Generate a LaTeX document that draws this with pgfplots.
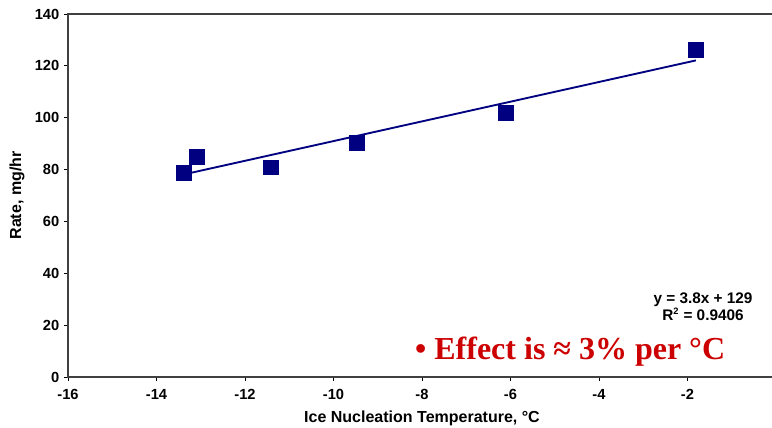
\documentclass[border=0pt]{standalone}
\usepackage{pgfplots}
\pgfplotsset{compat=1.18}
\usepackage{fontspec}
\setmainfont{Liberation Sans}
\newfontfamily\timesfont{Liberation Serif}
\usetikzlibrary{calc}
\definecolor{navy}{RGB}{0,0,128}
\definecolor{effectred}{RGB}{204,0,0}

\begin{document}
\begin{tikzpicture}
\begin{axis}[
  scale only axis,
  width=531pt, height=272.25pt,
  xmin=-16, xmax=0, ymin=0, ymax=140,
  xtick={-16,-14,...,0},
  ytick={0,20,...,140},
  tick align=outside, tick pos=left,
  axis line style={black!75, line width=0.8pt},
  major tick length=3pt,
  tick style={black, line width=0.6pt},
  ticklabel style={font=\fontsize{11}{12}\selectfont\bfseries},
  xticklabel style={yshift=-3pt},
  /pgf/number format/assume math mode=true,
  xlabel={Ice Nucleation Temperature, °C},
  ylabel={Rate, mg/hr},
  label style={font=\fontsize{12}{14}\selectfont\bfseries},
  xlabel style={at={(axis description cs:0.5,-0.113)}, anchor=center},
  ylabel style={at={(axis description cs:-0.072,0.5)}, anchor=center},
  clip=false,
]
% trend line
\addplot[navy, line width=1.4pt] coordinates {(-13.39,78.1) (-1.81,122.1)};
% measurements
\addplot[only marks, mark=square*, mark size=5.6pt, color=navy] coordinates {
  (-13.39,78.6)
  (-13.10,85.1)
  (-11.41,80.9)
  (-9.48,90.2)
  (-6.10,101.8)
  (-1.81,126.1)
};
\node[font=\fontsize{11.5}{10}\selectfont\bfseries, align=center] at (axis cs:-1.65,27.2)
  {y = 3.8x + 129\\R\textsuperscript{\scriptsize 2} = 0.9406};
\node[anchor=west, inner sep=0pt, text=effectred,
  font=\timesfont\fontsize{24}{28}\selectfont\bfseries] at (axis cs:-8.16,9.6)
  {• Effect is ≈ 3\% per °C};
\coordinate (A) at (rel axis cs:0,0);
\coordinate (B) at (rel axis cs:1,1);
\end{axis}
\pgfresetboundingbox
\path[use as bounding box] ($(A)+(-51pt,-38.25pt)$) rectangle ($(B)+(-3pt,10.5pt)$);
\end{tikzpicture}
\end{document}
